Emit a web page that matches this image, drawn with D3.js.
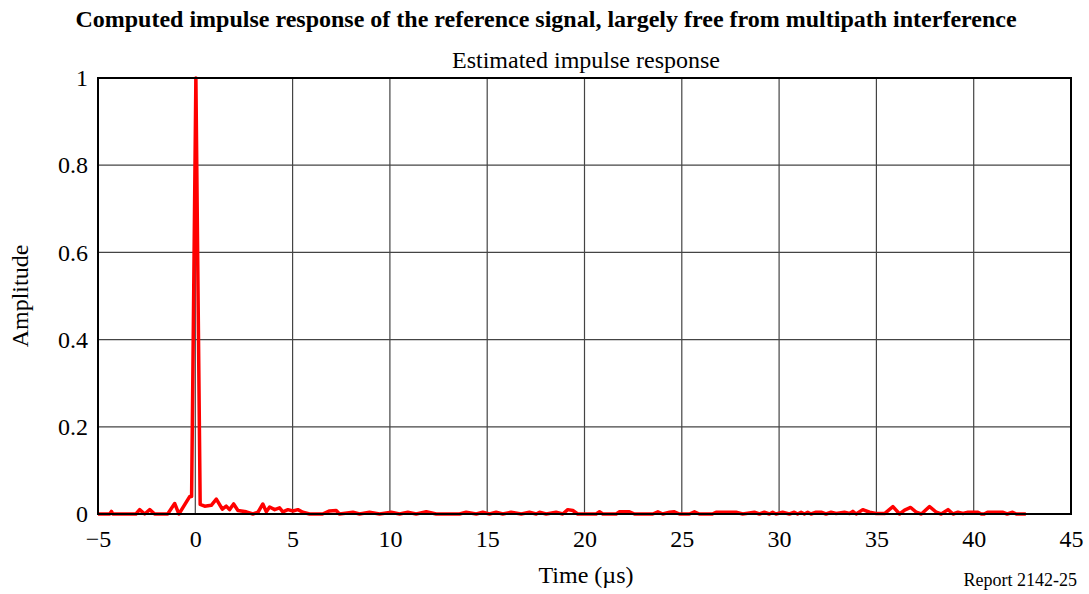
<!DOCTYPE html>
<html>
<head>
<meta charset="utf-8">
<script src="https://cdn.jsdelivr.net/npm/d3@7"></script>
<style>
  body { margin: 0; background: #fff; }
  svg { display: block; }
  text { font-family: "Liberation Serif", "Times New Roman", serif; fill: #000; }
</style>
</head>
<body>
<svg id="chart" width="1089" height="594"></svg>
<script>
// Data
const timeUs = [
  -5.0, -4.40, -4.31, -4.24, -3.05, -2.86, -2.60, -2.34, -2.09, -1.42, -1.06, -0.84, -0.29, -0.19,
  0.03, 0.25, 0.48, 0.82, 1.08, 1.39, 1.59, 1.76, 1.97, 2.19, 2.62, 2.96, 3.22, 3.47, 3.65,
  3.82, 4.08, 4.33, 4.50, 4.76, 5.02, 5.27, 5.53, 5.87, 6.54, 6.90, 7.24, 7.41, 8.10, 8.44,
  8.95, 9.47, 10.07, 10.50, 10.92, 11.35, 11.87, 12.38, 13.58, 13.92, 14.44, 14.77, 15.12,
  15.46, 15.80, 16.23, 16.75, 17.17, 17.52, 17.69, 18.03, 18.54, 18.88, 19.14, 19.40, 19.65,
  20.60, 20.77, 20.94, 21.63, 21.80, 22.31, 22.57, 23.51, 23.77, 24.02, 24.37, 24.62, 24.88,
  25.39, 25.65, 25.90, 26.57, 26.76, 27.79, 28.13, 28.73, 28.99, 29.24, 29.50, 29.67, 29.84,
  30.18, 30.53, 30.78, 30.95, 31.13, 31.30, 31.47, 31.64, 31.90, 32.16, 32.41, 32.67, 32.93,
  33.36, 33.62, 33.79, 33.96, 34.30, 34.65, 34.99, 35.42, 35.85, 36.19, 36.45, 36.76, 37.05,
  37.31, 37.73, 38.08, 38.33, 38.68, 38.94, 39.19, 39.45, 39.71, 40.22, 40.39, 40.54, 40.71,
  41.48, 41.72, 42.00, 42.19, 42.68
];
const amplitude = [
  0, 0, 0.006, 0, 0, 0.010, 0, 0.010, 0, 0, 0.024, 0, 0.040, 0.040,
  1.0, 0.022, 0.018, 0.020, 0.034, 0.011, 0.018, 0.010, 0.023, 0.008, 0.005, 0, 0.004, 0.023, 0.005,
  0.016, 0.010, 0.014, 0.005, 0.010, 0.007, 0.010, 0.004, 0, 0, 0.007, 0.008, 0, 0.004, 0,
  0.004, 0, 0.004, 0, 0.004, 0, 0.005, 0, 0, 0.004, 0, 0.004, 0,
  0.004, 0, 0.004, 0, 0.004, 0, 0.004, 0, 0.004, 0, 0.010, 0.008, 0,
  0, 0.005, 0, 0, 0.005, 0.005, 0, 0, 0.005, 0, 0.004, 0.005, 0,
  0, 0.005, 0, 0, 0.004, 0.004, 0, 0.004, 0, 0.004, 0, 0.004, 0,
  0.004, 0, 0.004, 0, 0.004, 0, 0.004, 0, 0.004, 0.004, 0, 0.004, 0.001,
  0.004, 0.001, 0.006, 0, 0.010, 0.004, 0.001, 0.001, 0.017, 0, 0.009, 0.015, 0.004,
  0, 0.017, 0.004, 0, 0.010, 0, 0.004, 0.001, 0.004, 0.004, 0, 0, 0.004,
  0.004, 0, 0.004, 0, 0
];
const xTicks = [-5, 0, 5, 10, 15, 20, 25, 30, 35, 40, 45];
const yTicks = [0, 0.2, 0.4, 0.6, 0.8, 1];
const yTickLabels = ["0", "0.2", "0.4", "0.6", "0.8", "1"];
const titleText = "Computed impulse response of the reference signal, largely free from multipath interference";
const subtitleText = "Estimated impulse response";
const xLabel = "Time (µs)";
const yLabel = "Amplitude";
const reportText = "Report 2142-25";

const svg = d3.select("#chart");
const margin = { left: 98, top: 78, right: 1071, bottom: 514 };
const x = d3.scaleLinear().domain([-5, 45]).range([margin.left, margin.right]);
const y = d3.scaleLinear().domain([0, 1]).range([margin.bottom, margin.top]);

// grid
const grid = svg.append("g");
grid.selectAll("line.vx").data(xTicks.slice(1, -1)).enter().append("line")
  .attr("x1", d => x(d)).attr("x2", d => x(d))
  .attr("y1", margin.top).attr("y2", margin.bottom)
  .attr("stroke", "#444").attr("stroke-width", 1.2);
grid.selectAll("line.hy").data(yTicks.slice(1, -1)).enter().append("line")
  .attr("x1", margin.left).attr("x2", margin.right)
  .attr("y1", d => y(d)).attr("y2", d => y(d))
  .attr("stroke", "#444").attr("stroke-width", 1.2);

// axes (labels only)
const fmtX = d => d < 0 ? "\u2212" + Math.abs(d) : String(d);
const xAxis = d3.axisBottom(x).tickValues(xTicks).tickFormat(fmtX).tickSize(0).tickPadding(16);
const gx = svg.append("g").attr("transform", `translate(0,${margin.bottom})`).call(xAxis);
gx.select(".domain").remove();
gx.selectAll("text").style("font-size", "24px").style("font-family", "Liberation Serif");

const yAxis = d3.axisLeft(y).tickValues(yTicks).tickFormat((d, i) => yTickLabels[i]).tickSize(0).tickPadding(10);
const gy = svg.append("g").attr("transform", `translate(${margin.left},0)`).call(yAxis);
gy.select(".domain").remove();
gy.selectAll("text").style("font-size", "24px").style("font-family", "Liberation Serif");

// data line
const line = d3.line().x((d, i) => x(timeUs[i])).y(d => y(d));
svg.append("path").datum(amplitude)
  .attr("d", line)
  .attr("fill", "none").attr("stroke", "#ff0000").attr("stroke-width", 3.5)
  .attr("stroke-linejoin", "round");

// frame
svg.append("rect")
  .attr("x", margin.left).attr("y", margin.top)
  .attr("width", margin.right - margin.left).attr("height", margin.bottom - margin.top)
  .attr("fill", "none").attr("stroke", "#000").attr("stroke-width", 2);

// texts
svg.append("text").attr("x", 546).attr("y", 27).attr("text-anchor", "middle")
  .style("font-size", "24px").style("font-weight", "bold").text(titleText);
svg.append("text").attr("x", 586).attr("y", 68).attr("text-anchor", "middle")
  .style("font-size", "24px").text(subtitleText);
svg.append("text").attr("x", 586).attr("y", 583).attr("text-anchor", "middle")
  .style("font-size", "24px").text(xLabel);
svg.append("text").attr("transform", "translate(28,296) rotate(-90)").attr("text-anchor", "middle")
  .style("font-size", "24px").text(yLabel);
svg.append("text").attr("x", 1077).attr("y", 586).attr("text-anchor", "end")
  .style("font-size", "18px").text(reportText);
</script>
</body>
</html>
